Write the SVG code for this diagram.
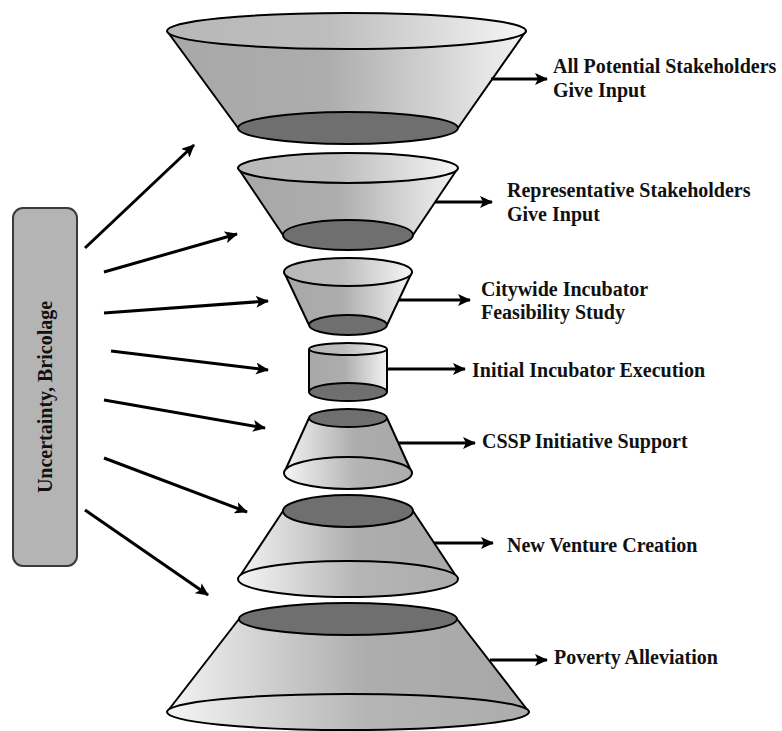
<svg xmlns="http://www.w3.org/2000/svg" width="782" height="731" viewBox="0 0 782 731">
<defs>
  <linearGradient id="gUp" x1="0" y1="0" x2="1" y2="0">
    <stop offset="0" stop-color="#a8a8a8"/>
    <stop offset="0.45" stop-color="#adadad"/>
    <stop offset="1" stop-color="#f3f3f3"/>
  </linearGradient>
  <linearGradient id="gUpTop" x1="0" y1="0" x2="1" y2="0">
    <stop offset="0" stop-color="#b8b8b8"/>
    <stop offset="0.45" stop-color="#bdbdbd"/>
    <stop offset="1" stop-color="#f5f5f5"/>
  </linearGradient>
  <linearGradient id="gDown" x1="0" y1="0" x2="1" y2="0">
    <stop offset="0" stop-color="#f3f3f3"/>
    <stop offset="0.55" stop-color="#adadad"/>
    <stop offset="1" stop-color="#a8a8a8"/>
  </linearGradient>
  <linearGradient id="gDownBot" x1="0" y1="0" x2="1" y2="0">
    <stop offset="0" stop-color="#f5f5f5"/>
    <stop offset="0.55" stop-color="#b5b5b5"/>
    <stop offset="1" stop-color="#acacac"/>
  </linearGradient>
  <marker id="ah" markerUnits="userSpaceOnUse" markerWidth="14" markerHeight="12" refX="12" refY="6" orient="auto">
    <path d="M0,0 L13,6 L0,12 L3,6 Z" fill="#000"/>
  </marker>
</defs>
<style>
  .edge { fill: none; stroke: #000; stroke-width: 2; stroke-linejoin: round; }
  .dark { fill: #6f6f6f; stroke: #000; stroke-width: 2; }
  .upbody { fill: url(#gUp); stroke: none; }
  .uptop { fill: url(#gUpTop); stroke: #000; stroke-width: 2; }
  .downbody { fill: url(#gDown); stroke: none; }
  .downbot { fill: url(#gDownBot); stroke: #000; stroke-width: 2; }
  .arr { fill: none; stroke: #000; stroke-width: 3; marker-end: url(#ah); }
  .lbl { font-family: "Liberation Serif", "Times New Roman", serif; font-weight: bold; font-size: 20px; fill: #111; }
</style>

<g id="uncertainty">
  <rect x="13" y="208" width="64" height="358" rx="10" ry="10" fill="#b4b4b4" stroke="#3a3a3a" stroke-width="2"/>
  <text class="lbl" transform="translate(52,397) rotate(-90)" text-anchor="middle">Uncertainty, Bricolage</text>
</g>

<g id="stakeholders-all">
  <path class="upbody" d="M167,31 L238,128 L458,128 L526,31 Z"/>
  <path class="edge" d="M167,31 L238,128 M458,128 L526,31"/>
  <ellipse class="dark" cx="348" cy="128" rx="110" ry="16"/>
  <ellipse class="uptop" cx="346.5" cy="31" rx="179.5" ry="18"/>
  <text class="lbl" x="553" y="73">All Potential Stakeholders</text>
  <text class="lbl" x="553" y="97">Give Input</text>
</g>

<g id="stakeholders-rep">
  <path class="upbody" d="M238,168 L283,235 L413,235 L458,168 Z"/>
  <path class="edge" d="M238,168 L283,235 M413,235 L458,168"/>
  <ellipse class="dark" cx="348" cy="235" rx="65" ry="15"/>
  <ellipse class="uptop" cx="348" cy="168" rx="110" ry="15"/>
  <text class="lbl" x="507" y="197">Representative Stakeholders</text>
  <text class="lbl" x="507" y="221">Give Input</text>
</g>

<g id="feasibility">
  <path class="upbody" d="M284,272 L309,325 L387,325 L412,272 Z"/>
  <path class="edge" d="M284,272 L309,325 M387,325 L412,272"/>
  <ellipse class="dark" cx="348" cy="325" rx="39" ry="10"/>
  <ellipse class="uptop" cx="348" cy="272" rx="64" ry="14"/>
  <text class="lbl" x="481" y="296">Citywide Incubator</text>
  <text class="lbl" x="481" y="319">Feasibility Study</text>
</g>

<g id="execution">
  <path class="upbody" d="M309,349 L309,392 L387,392 L387,349 Z"/>
  <path class="edge" d="M309,349 L309,392 M387,392 L387,349"/>
  <ellipse class="dark" cx="348" cy="392" rx="39" ry="9"/>
  <ellipse class="uptop" cx="348" cy="349" rx="39" ry="6"/>
  <text class="lbl" x="472" y="377">Initial Incubator Execution</text>
</g>

<g id="cssp">
  <path class="downbody" d="M309,418 L284,473 L412,473 L387,418 Z"/>
  <path class="edge" d="M309,418 L284,473 M412,473 L387,418"/>
  <ellipse class="downbot" cx="348" cy="473" rx="64" ry="16"/>
  <ellipse class="dark" cx="348" cy="418" rx="39" ry="9"/>
  <text class="lbl" x="482" y="448">CSSP Initiative Support</text>
</g>

<g id="venture">
  <path class="downbody" d="M283,511 L238,579 L458,579 L413,511 Z"/>
  <path class="edge" d="M283,511 L238,579 M458,579 L413,511"/>
  <ellipse class="downbot" cx="348" cy="579" rx="110" ry="18"/>
  <ellipse class="dark" cx="348" cy="511" rx="65" ry="16"/>
  <text class="lbl" x="507" y="552">New Venture Creation</text>
</g>

<g id="poverty">
  <path class="downbody" d="M239,619 L167,712 L529,712 L457,619 Z"/>
  <path class="edge" d="M239,619 L167,712 M529,712 L457,619"/>
  <ellipse class="downbot" cx="348" cy="712" rx="181" ry="18"/>
  <ellipse class="dark" cx="348" cy="619" rx="109" ry="16"/>
  <text class="lbl" x="554" y="664">Poverty Alleviation</text>
</g>

<g id="connectors">
  <line class="arr" x1="85" y1="248" x2="194" y2="145"/>
  <line class="arr" x1="104" y1="272" x2="237" y2="234"/>
  <line class="arr" x1="104" y1="313" x2="268" y2="301"/>
  <line class="arr" x1="111" y1="351" x2="268" y2="370"/>
  <line class="arr" x1="104" y1="400" x2="265" y2="428"/>
  <line class="arr" x1="104" y1="458" x2="247" y2="512"/>
  <line class="arr" x1="85" y1="510" x2="208" y2="595"/>
  <line class="arr" x1="491" y1="79" x2="547" y2="79"/>
  <line class="arr" x1="435" y1="202" x2="492" y2="202"/>
  <line class="arr" x1="399" y1="300" x2="470" y2="300"/>
  <line class="arr" x1="387" y1="369" x2="465" y2="369"/>
  <line class="arr" x1="398" y1="443" x2="475" y2="443"/>
  <line class="arr" x1="434" y1="543" x2="493" y2="543"/>
  <line class="arr" x1="490" y1="660" x2="547" y2="660"/>
</g>
</svg>
